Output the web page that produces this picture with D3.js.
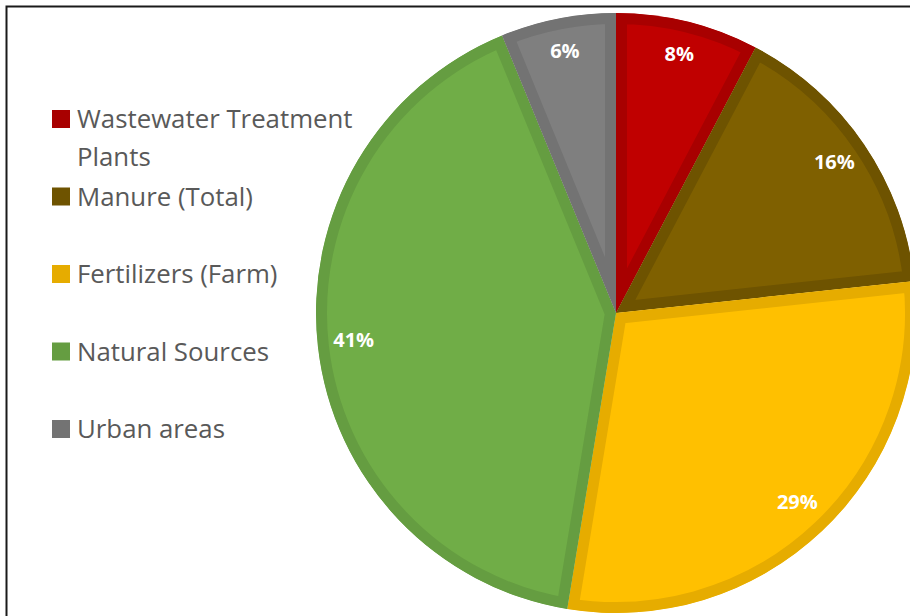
<!DOCTYPE html>
<html>
<head>
<meta charset="utf-8">
<script src="https://cdn.jsdelivr.net/npm/d3@7"></script>
<style>
  body { margin: 0; background: #fff; }
  svg { display: block; }
</style>
</head>
<body>
<div id="chart"></div>
<script>
const categories = ['Wastewater Treatment Plants', 'Manure (Total)', 'Fertilizers (Farm)', 'Natural Sources', 'Urban areas'];
const shares = [7.7, 15.6, 29.3, 41.2, 6.2];
const legendLines = [['Wastewater Treatment', 'Plants'], ['Manure (Total)'], ['Fertilizers (Farm)'], ['Natural Sources'], ['Urban areas']];

const fills = ['#C00000', '#7F6000', '#FFC000', '#70AD47', '#7F7F7F'];
const edges = ['#A80000', '#6E5300', '#E6AC00', '#659D41', '#737373'];

const W = 910, H = 616;
const cx = 616, cy = 313, r = 300;

const svg = d3.select('#chart').append('svg')
    .attr('width', W)
    .attr('height', H);

// frame
svg.append('path')
    .attr('d', `M6.5,${H} V6.5 H${W}`)
    .attr('fill', 'none')
    .attr('stroke', '#1a1a1a')
    .attr('stroke-width', 2);

const color = d3.scaleOrdinal().domain(categories).range(fills);
const edge = d3.scaleOrdinal().domain(categories).range(edges);

const pie = d3.pie().sort(null).value(d => d.v);
const arcs = pie(categories.map((c, i) => ({c: c, v: shares[i]})));

const arc = d3.arc().innerRadius(0).outerRadius(r);
const labelArc = d3.arc().innerRadius(264).outerRadius(264);

const g = svg.append('g').attr('transform', `translate(${cx},${cy})`);
const defs = svg.append('defs');

defs.selectAll('clipPath')
    .data(arcs)
    .enter().append('clipPath')
    .attr('id', (d, i) => 'slice' + i)
    .append('path')
    .attr('d', arc);

g.selectAll('path.slice')
    .data(arcs)
    .enter().append('path')
    .attr('class', 'slice')
    .attr('d', arc)
    .attr('fill', d => color(d.data.c))
    .attr('stroke', d => edge(d.data.c))
    .attr('stroke-width', 22)
    .attr('stroke-linejoin', 'miter')
    .attr('clip-path', (d, i) => `url(#slice${i})`);

g.selectAll('text.lbl')
    .data(arcs)
    .enter().append('text')
    .attr('class', 'lbl')
    .attr('transform', d => `translate(${labelArc.centroid(d)})`)
    .attr('text-anchor', 'middle')
    .attr('dy', '0.2em')
    .attr('fill', '#fff')
    .style('font-family', '"Open Sans", sans-serif')
    .style('font-weight', 'bold')
    .style('font-size', '20px')
    .text(d => Math.round(d.data.v) + '%');

// legend
const ly = d3.scalePoint().domain(categories).range([119, 429]);

const leg = svg.append('g').selectAll('g')
    .data(categories)
    .enter().append('g')
    .attr('transform', d => `translate(52,${ly(d)})`);

leg.append('rect')
    .attr('x', 0)
    .attr('y', -9)
    .attr('width', 18)
    .attr('height', 18)
    .attr('fill', d => edge(d));

leg.append('text')
    .attr('x', 25)
    .attr('y', 0)
    .attr('fill', '#595959')
    .style('font-family', '"Open Sans", sans-serif')
    .style('font-size', '25.8px')
    .selectAll('tspan')
    .data((d, i) => legendLines[i])
    .enter().append('tspan')
    .attr('x', 25)
    .attr('dy', (d, i) => i === 0 ? '0.36em' : '38px')
    .text(d => d);
</script>
</body>
</html>
